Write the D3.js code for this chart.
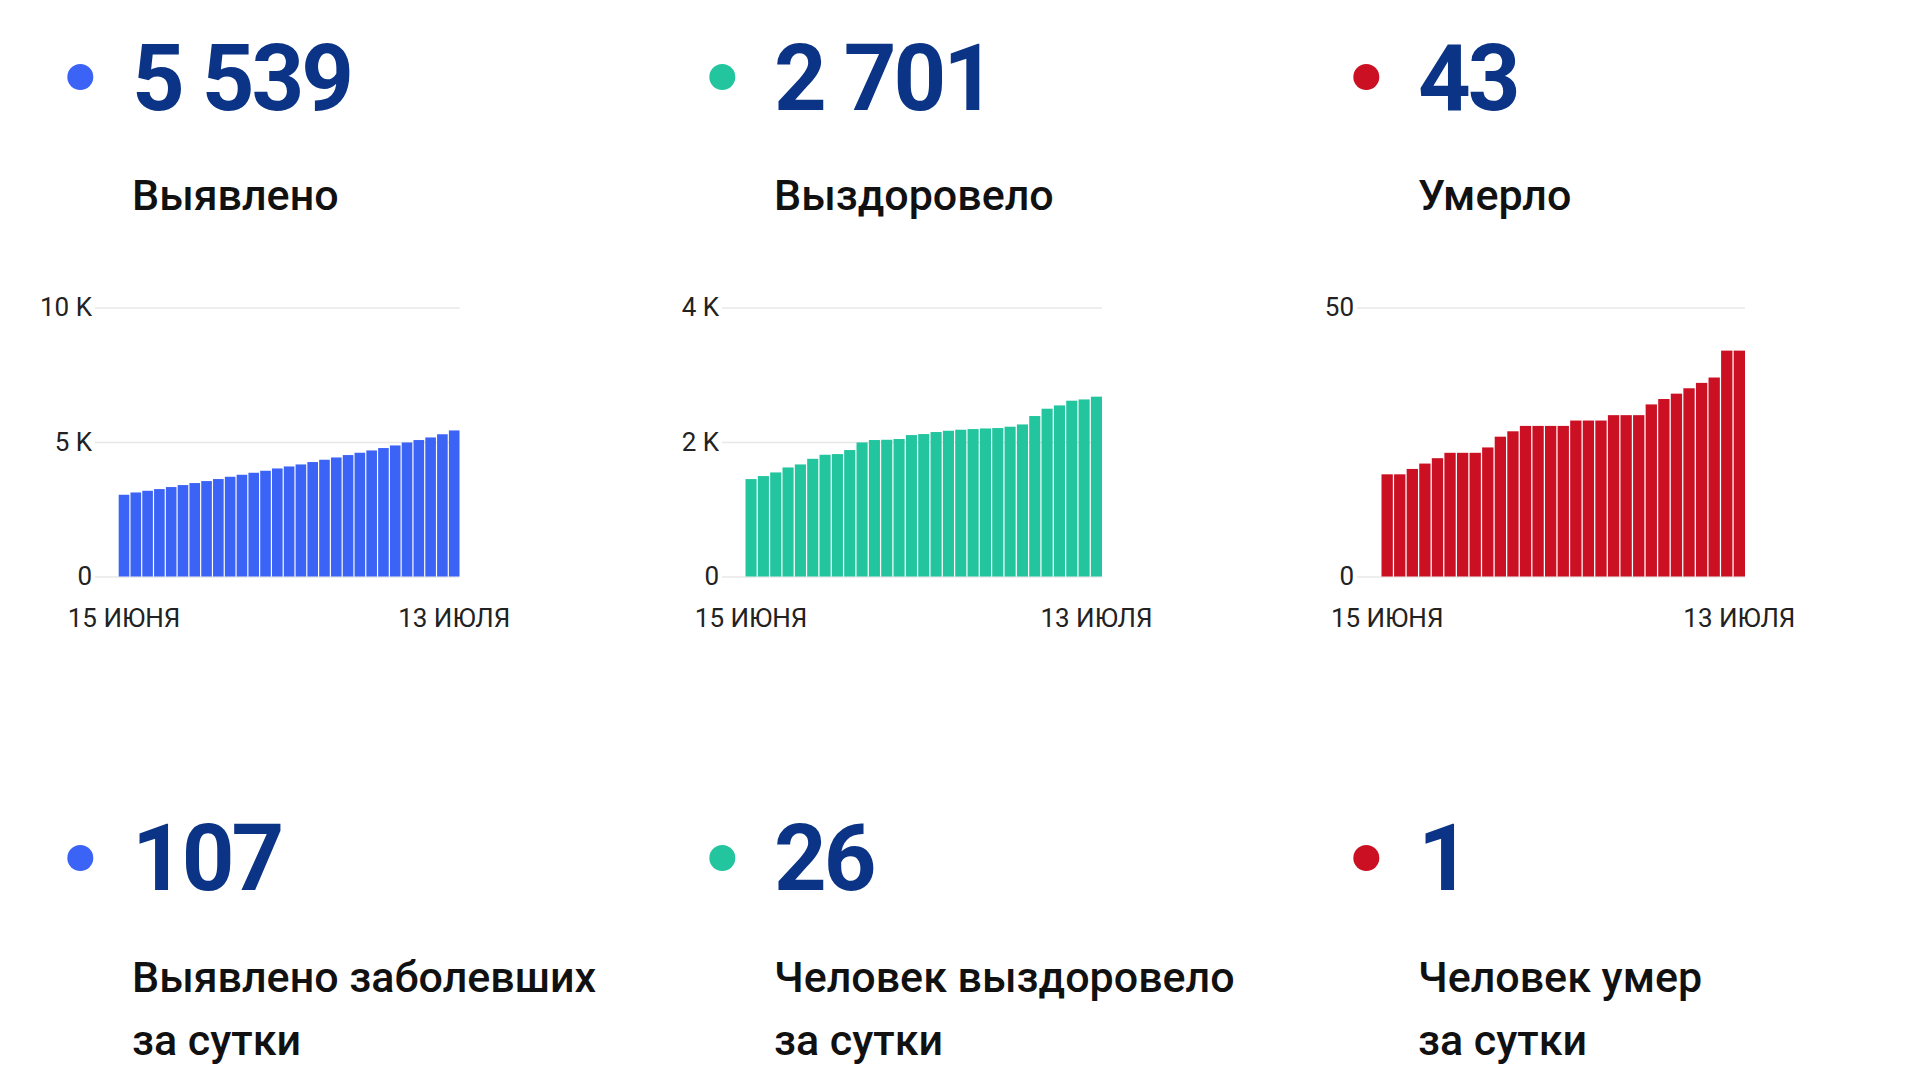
<!DOCTYPE html>
<html>
<head>
<meta charset="utf-8">
<script src="https://cdn.jsdelivr.net/npm/d3@7"></script>
<style>
  html, body { margin: 0; padding: 0; background: #ffffff; }
  svg { display: block; font-family: Roboto, "Noto Sans", sans-serif; }
</style>
</head>
<body>
<svg id="chart" width="1920" height="1080"></svg>
<script>
// ---------- data ----------
const titles = ["Выявлено", "Выздоровело", "Умерло"];
const totals = [5539, 2701, 43];
const dailyValues = [107, 26, 1];
const dailyLabels = [
  ["Выявлено заболевших", "за сутки"],
  ["Человек выздоровело", "за сутки"],
  ["Человек умер", "за сутки"]
];
const dates = [
  "15 июня","16 июня","17 июня","18 июня","19 июня","20 июня","21 июня","22 июня",
  "23 июня","24 июня","25 июня","26 июня","27 июня","28 июня","29 июня","30 июня",
  "1 июля","2 июля","3 июля","4 июля","5 июля","6 июля","7 июля","8 июля",
  "9 июля","10 июля","11 июля","12 июля","13 июля"
];
const casesSeries = [
  3040, 3125, 3188, 3251, 3326, 3400, 3475, 3549, 3624, 3709,
  3784, 3858, 3932, 4018, 4092, 4167, 4256, 4342, 4427, 4516,
  4602, 4688, 4777, 4874, 4985, 5074, 5171, 5290, 5432
];
const recoveredSeries = [
  1449, 1494, 1548, 1622, 1667, 1751, 1811, 1821, 1881, 1994,
  2030, 2034, 2045, 2104, 2119, 2149, 2168, 2183, 2193, 2202,
  2208, 2228, 2262, 2387, 2496, 2545, 2615, 2634, 2675
];
const deathsSeries = [
  19, 19, 20, 21, 22, 23, 23, 23, 24, 26,
  27, 28, 28, 28, 28, 29, 29, 29, 30, 30,
  30, 32, 33, 34, 35, 36, 37, 42, 42
];
const yTickValues = [[0, 5000, 10000], [0, 2000, 4000], [0, 50]];
const yTickLabels = [["0", "5 K", "10 K"], ["0", "2 K", "4 K"], ["0", "50"]];
const yMax = [10000, 4000, 50];
const xTickLabels = ["15 ИЮНЯ", "13 ИЮЛЯ"];

// ---------- styles / layout ----------
const colors = ["#3b63f6", "#22c59e", "#cc1024"];
const navy = "#0b3486";
const colOffset = [0, 642, 1286];
const series = [casesSeries, recoveredSeries, deathsSeries];
const chartGeom = [
  { labelRight: 92,   gridStart: 95,   barStart: 118.7, barEnd: 459.5 },
  { labelRight: 719,  gridStart: 722,  barStart: 745.5, barEnd: 1102 },
  { labelRight: 1354, gridStart: 1357, barStart: 1381.5, barEnd: 1745 }
];
const yBottom = 576.5, yTop = 307.6;

const locale = d3.formatLocale({ decimal: ",", thousands: "\u00a0", grouping: [3], currency: ["", ""] });
const fmt = locale.format(",d");

const svg = d3.select("#chart");
svg.append("rect").attr("width", 1920).attr("height", 1080).attr("fill", "#fff");

titles.forEach((title, i) => {
  const ox = colOffset[i];
  const g = svg.append("g");

  // top: dot, big number, title
  g.append("circle").attr("cx", 80.3 + ox).attr("cy", 77).attr("r", 13).attr("fill", colors[i]);
  g.append("text").attr("x", 132 + ox).attr("y", 110)
    .attr("font-size", 92).attr("font-weight", 700).attr("fill", navy)
    .attr("letter-spacing", -3)
    .text(fmt(totals[i]));
  g.append("text").attr("x", 132 + ox).attr("y", 210)
    .attr("font-size", 43).attr("font-weight", 500).attr("fill", "#111")
    .text(title);

  // chart
  const geo = chartGeom[i];
  const x = d3.scaleBand().domain(dates).range([geo.barStart, geo.barEnd]).paddingInner(0.1).paddingOuter(0);
  const y = d3.scaleLinear().domain([0, yMax[i]]).range([yBottom, yTop]);

  const yAxis = d3.axisLeft(y)
    .tickValues(yTickValues[i])
    .tickFormat((d, k) => yTickLabels[i][k])
    .tickSize(-(geo.barEnd - geo.gridStart))
    .tickPadding(geo.gridStart - geo.labelRight);
  const ya = g.append("g").attr("transform", `translate(${geo.gridStart},0)`).call(yAxis);
  ya.select(".domain").remove();
  ya.selectAll(".tick line").attr("stroke", "#e8e8e8").attr("stroke-width", 1.5);
  ya.selectAll(".tick text").attr("font-size", 26).attr("fill", "#222")
    .attr("font-family", "Roboto, sans-serif").attr("dy", "0.32em");

  g.append("g").selectAll("rect").data(series[i]).join("rect")
    .attr("x", (d, k) => x(dates[k]))
    .attr("width", x.bandwidth())
    .attr("y", d => y(d))
    .attr("height", d => y(0) - y(d))
    .attr("fill", colors[i]);

  const xAxis = d3.axisBottom(x)
    .tickValues([dates[0], dates[dates.length - 1]])
    .tickFormat((d, k) => xTickLabels[k])
    .tickSize(0).tickPadding(32);
  const xa = g.append("g").attr("transform", `translate(0,${yBottom})`).call(xAxis);
  xa.select(".domain").remove();
  xa.selectAll(".tick text").attr("font-size", 26).attr("fill", "#222")
    .attr("font-family", "Roboto, sans-serif");

  // bottom: dot, daily number, labels
  g.append("circle").attr("cx", 80.3 + ox).attr("cy", 858).attr("r", 13).attr("fill", colors[i]);
  g.append("text").attr("x", 132 + ox).attr("y", 890)
    .attr("font-size", 92).attr("font-weight", 700).attr("fill", navy)
    .attr("letter-spacing", -3)
    .text(fmt(dailyValues[i]));
  dailyLabels[i].forEach((line, k) => {
    g.append("text").attr("x", 132 + ox).attr("y", 992 + k * 63)
      .attr("font-size", 43).attr("font-weight", 500).attr("fill", "#111")
      .text(line);
  });
});
</script>
</body>
</html>
